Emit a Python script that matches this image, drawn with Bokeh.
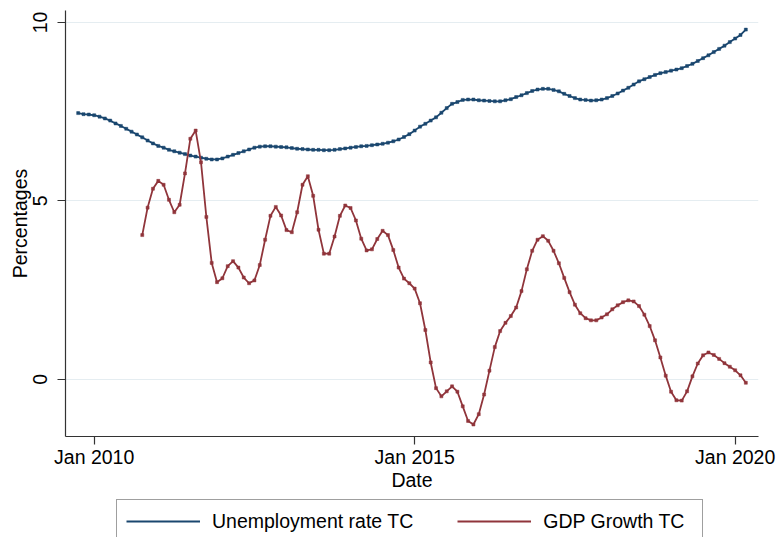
import pandas as pd
from bokeh.plotting import figure
from bokeh.layouts import column
from bokeh.models import Range1d, FixedTicker, Legend, LegendItem
from bokeh.embed import file_html
from bokeh.resources import INLINE

# ---- data (monthly) ----
unemp_start = "2009-10"
unemp_tc = [
    7.46, 7.43, 7.42, 7.40, 7.36, 7.31, 7.25, 7.17, 7.10, 7.02, 6.94, 6.86, 6.78,
    6.69, 6.61, 6.54, 6.49, 6.43, 6.39, 6.35, 6.31, 6.27, 6.24, 6.21,
    6.18, 6.16, 6.16, 6.19, 6.24, 6.29, 6.34, 6.39, 6.44, 6.49,
    6.52, 6.53, 6.53, 6.52, 6.51, 6.50, 6.48, 6.46, 6.45, 6.44,
    6.43, 6.43, 6.42, 6.42, 6.43, 6.45, 6.47, 6.49, 6.51, 6.53,
    6.54, 6.56, 6.58, 6.60, 6.63, 6.67, 6.72, 6.79, 6.87, 6.97,
    7.08, 7.16, 7.25, 7.34, 7.47, 7.60, 7.72, 7.77, 7.83, 7.84,
    7.84, 7.82, 7.81, 7.80, 7.79, 7.79, 7.82, 7.85, 7.91, 7.96,
    8.02, 8.08, 8.12, 8.14, 8.14, 8.11, 8.07, 8.00, 7.94, 7.88,
    7.84, 7.83, 7.81, 7.82, 7.84, 7.88, 7.94, 8.01, 8.09, 8.17,
    8.26, 8.35, 8.41, 8.47, 8.53, 8.58, 8.61, 8.65, 8.68, 8.72,
    8.78, 8.84, 8.92, 9.00, 9.08, 9.17, 9.26, 9.35, 9.45, 9.55, 9.65, 9.80,
]

gdp_start = "2010-10"
gdp_tc = [
    4.04, 4.81, 5.34, 5.56, 5.45, 5.03, 4.68, 4.89, 5.77, 6.74, 6.97, 6.08,
    4.55, 3.26, 2.72, 2.83, 3.17, 3.31, 3.13, 2.85, 2.69, 2.77, 3.20, 3.91,
    4.58, 4.83, 4.59, 4.18, 4.12, 4.68, 5.45, 5.69, 5.14, 4.19, 3.52, 3.52,
    4.00, 4.58, 4.87, 4.80, 4.45, 3.94, 3.61, 3.64, 3.93, 4.16, 4.04, 3.62,
    3.13, 2.82, 2.69, 2.54, 2.13, 1.38, 0.47, -0.25, -0.48, -0.34, -0.20, -0.35,
    -0.76, -1.17, -1.27, -0.98, -0.43, 0.24, 0.90, 1.35, 1.58, 1.77, 2.01, 2.47,
    3.08, 3.60, 3.91, 4.01, 3.88, 3.60, 3.25, 2.84, 2.44, 2.09, 1.85, 1.71,
    1.65, 1.65, 1.73, 1.82, 1.96, 2.07, 2.16, 2.21, 2.18, 2.05, 1.81, 1.49,
    1.09, 0.61, 0.10, -0.35, -0.59, -0.60, -0.34, 0.08, 0.44, 0.67, 0.75, 0.68,
    0.57, 0.45, 0.35, 0.25, 0.11, -0.10,
]

x_ticks = ["2010-01", "2015-01", "2020-01"]
x_tick_labels = ["Jan 2010", "Jan 2015", "Jan 2020"]
y_ticks = [0, 5, 10]
y_tick_labels = ["0", "5", "10"]
series_names = ["Unemployment rate TC", "GDP Growth TC"]


def month_index(period):
    return (period.year - 2010) * 12 + (period.month - 1)


unemp_x = [month_index(q) for q in pd.period_range(unemp_start, periods=len(unemp_tc), freq="M")]
gdp_x = [month_index(q) for q in pd.period_range(gdp_start, periods=len(gdp_tc), freq="M")]
xt = [month_index(pd.Period(t, freq="M")) for t in x_ticks]

FONT = "Liberation Sans"
FS = "19.5px"
NAVY = "#1a476f"
MAROON = "#90353b"
AXIS = "#333333"
W = 779
XR = (-5.37, 124.37)

p = figure(width=W, height=499, output_backend="svg", toolbar_location=None,
           x_range=Range1d(*XR), y_range=Range1d(-1.606, 10.336),
           min_border_left=65, min_border_right=21, min_border_top=10, min_border_bottom=63)
p.outline_line_color = None
p.background_fill_color = "white"
p.border_fill_color = "white"

p.xgrid.visible = False
p.ygrid.ticker = FixedTicker(ticks=y_ticks)
p.ygrid.grid_line_color = "#e5edf1"
p.ygrid.grid_line_width = 1.2

# x axis
p.xaxis.ticker = FixedTicker(ticks=xt)
p.xaxis.major_label_overrides = {t: l for t, l in zip(xt, x_tick_labels)}
p.xaxis.axis_label = "Date"
p.xaxis.major_tick_out = 8
p.xaxis.major_tick_in = 0
p.xaxis.minor_tick_line_color = None
p.xaxis.major_label_standoff = 1
p.xaxis.axis_label_standoff = -2

# y axis
p.yaxis.ticker = FixedTicker(ticks=y_ticks)
p.yaxis.major_label_overrides = {t: l for t, l in zip(y_ticks, y_tick_labels)}
p.yaxis.axis_label = "Percentages"
p.yaxis.major_label_orientation = "vertical"
p.yaxis.major_tick_out = 8
p.yaxis.major_tick_in = 0
p.yaxis.minor_tick_line_color = None
p.yaxis.major_label_standoff = 10
p.yaxis.axis_label_standoff = 0

for ax in (p.xaxis, p.yaxis):
    ax.axis_line_color = AXIS
    ax.axis_line_width = 1.2
    ax.major_tick_line_color = AXIS
    ax.major_tick_line_width = 1.2
    ax.major_label_text_font = FONT
    ax.major_label_text_font_size = FS
    ax.major_label_text_color = "black"
    ax.axis_label_text_font = FONT
    ax.axis_label_text_font_size = FS
    ax.axis_label_text_font_style = "normal"
    ax.axis_label_text_color = "black"

p.line(unemp_x, unemp_tc, line_color=NAVY, line_width=1.8)
p.scatter(unemp_x, unemp_tc, marker="square", size=3, fill_color=NAVY, line_color=NAVY, line_width=0.5)
p.line(gdp_x, gdp_tc, line_color=MAROON, line_width=1.8)
p.scatter(gdp_x, gdp_tc, marker="square", size=3, fill_color=MAROON, line_color=MAROON, line_width=0.5)

# ---- legend strip below the plot (its series lie outside its y range) ----
p2 = figure(width=W, height=38, output_backend="svg", toolbar_location=None,
            x_range=Range1d(*XR), y_range=Range1d(100, 101),
            x_axis_location=None, y_axis_location=None,
            min_border=0, min_border_left=0, min_border_right=0,
            min_border_top=0, min_border_bottom=0)
p2.outline_line_color = None
p2.xgrid.visible = False
p2.ygrid.visible = False
k1 = p2.line(unemp_x, unemp_tc, line_color=NAVY, line_width=1.8)
k2 = p2.line(gdp_x, gdp_tc, line_color=MAROON, line_width=1.8)

legend = Legend(
    items=[LegendItem(label=series_names[0], renderers=[k1]),
           LegendItem(label=series_names[1], renderers=[k2])],
    orientation="horizontal", location=(51, -6),
    glyph_width=74, glyph_height=24, label_standoff=12, spacing=44,
    padding=9, margin=0, label_width=150, label_height=24,
    label_text_font=FONT, label_text_font_size=FS, label_text_color="black",
    border_line_color="#404040", border_line_width=1,
    background_fill_color="white", background_fill_alpha=1,
)
p2.add_layout(legend, "center")

open("out.html", "w").write(file_html(column(p, p2, spacing=0), INLINE))
